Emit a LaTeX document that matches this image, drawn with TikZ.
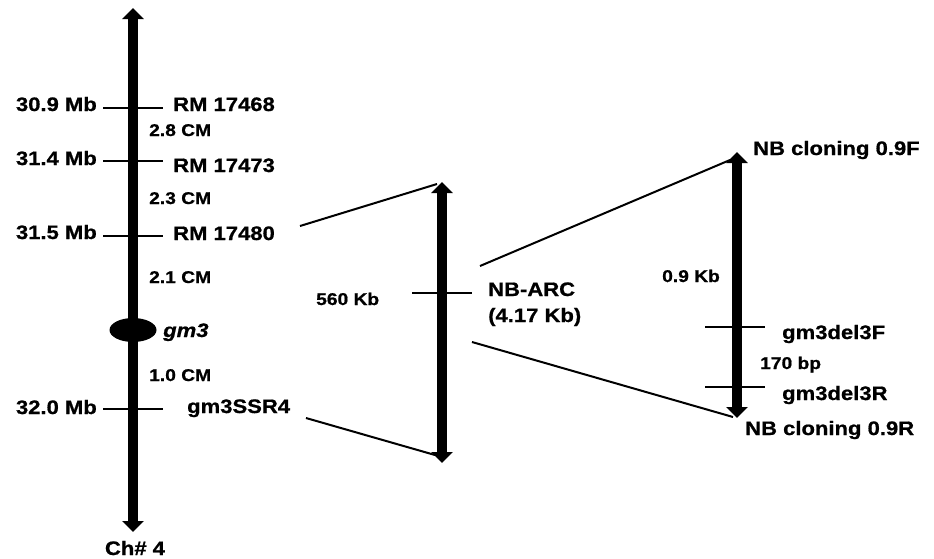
\documentclass[tikz,border=0pt]{standalone}
\usepackage{fontspec}
\setmainfont{Liberation Sans}[FakeStretch=1.13, BoldFeatures={FakeBold=0.8}, BoldItalicFeatures={FakeBold=0.8}]
\usetikzlibrary{arrows.meta,shapes.geometric}
\tikzset{
  chrom/.style={line width=10.5pt, {Triangle[width=21pt,length=11pt]}-{Triangle[width=21pt,length=11pt]}},
  tickline/.style={line width=2pt},
  link/.style={line width=2pt},
  big/.style={inner sep=0pt, font=\bfseries\fontsize{19.5}{22}\selectfont},
  small/.style={inner sep=0pt, font=\bfseries\fontsize{17}{20}\selectfont},
}
\begin{document}
\begin{tikzpicture}[x=1pt,y=-1pt]
\useasboundingbox[fill=white] (0,0) rectangle (934,558);
% chromosome 4
\coordinate (c1top) at (133,8);
\coordinate (c1bot) at (133,532);
\draw[chrom] (c1top) -- (c1bot);
\coordinate (t1a) at (103,108); \coordinate (t1b) at (163,108);
\coordinate (t2a) at (103,161); \coordinate (t2b) at (163,161);
\coordinate (t3a) at (103,236); \coordinate (t3b) at (163,236);
\coordinate (t4a) at (103,409); \coordinate (t4b) at (163,409);
\draw[tickline] (t1a) -- (t1b);
\draw[tickline] (t2a) -- (t2b);
\draw[tickline] (t3a) -- (t3b);
\draw[tickline] (t4a) -- (t4b);
\node[ellipse, fill=black, minimum width=47pt, minimum height=24pt, inner sep=0pt] (gm3dot) at (133,330) {};
\node[big, anchor=base east] (mb1) at (97,111) {30.9 Mb};
\node[big, anchor=base east] (mb2) at (97,165) {31.4 Mb};
\node[big, anchor=base east] (mb3) at (97,239) {31.5 Mb};
\node[big, anchor=base east] (mb4) at (97,414) {32.0 Mb};
\node[big, anchor=base west] (rm1) at (173,111) {RM 17468};
\node[big, anchor=base west] (rm2) at (173,172) {RM 17473};
\node[big, anchor=base west] (rm3) at (173,240) {RM 17480};
\node[big, anchor=base west] (ssr) at (187,413) {gm3SSR4};
\node[small, anchor=base west] (cm1) at (149,136) {2.8 CM};
\node[small, anchor=base west] (cm2) at (149,204) {2.3 CM};
\node[small, anchor=base west] (cm3) at (149,283) {2.1 CM};
\node[small, anchor=base west] (cm4) at (149,381) {1.0 CM};
\node[big, anchor=base west] (gm3) at (163,337) {\itshape gm3};
\node[big, anchor=base] (ch4) at (135,555) {Ch\# 4};
% middle (560 Kb)
\coordinate (c2top) at (442,182);
\coordinate (c2bot) at (442,463);
\draw[chrom] (c2top) -- (c2bot);
\coordinate (t5a) at (412,293); \coordinate (t5b) at (472,293);
\draw[tickline] (t5a) -- (t5b);
\node[small, anchor=base west] (kb560) at (316,305) {560 Kb};
\node[big, anchor=base west] (nbarc) at (488,296) {NB-ARC};
\node[big, anchor=base west] (nbarc2) at (488,322) {(4.17 Kb)};
\coordinate (l1a) at (300,226); \coordinate (l1b) at (437,184);
\coordinate (l2a) at (306,418); \coordinate (l2b) at (435,455);
\draw[link] (l1a) -- (l1b);
\draw[link] (l2a) -- (l2b);
% right (0.9 Kb)
\coordinate (c3top) at (737,152);
\coordinate (c3bot) at (737,418);
\draw[chrom] (c3top) -- (c3bot);
\coordinate (t6a) at (705,327); \coordinate (t6b) at (765,327);
\coordinate (t7a) at (705,387); \coordinate (t7b) at (765,387);
\draw[tickline] (t6a) -- (t6b);
\draw[tickline] (t7a) -- (t7b);
\coordinate (l3a) at (480,266); \coordinate (l3b) at (730,160);
\coordinate (l4a) at (472,342); \coordinate (l4b) at (733,417);
\draw[link] (l3a) -- (l3b);
\draw[link] (l4a) -- (l4b);
\node[big, anchor=base west] (nbf) at (753,155) {NB cloning 0.9F};
\node[small, anchor=base west] (kb09) at (662,282) {0.9 Kb};
\node[big, anchor=base west] (delF) at (782,339) {gm3del3F};
\node[small, anchor=base west] (bp170) at (760,369) {170 bp};
\node[big, anchor=base west] (delR) at (782,400) {gm3del3R};
\node[big, anchor=base west] (nbr) at (745,435) {NB cloning 0.9R};
\end{tikzpicture}
\end{document}
